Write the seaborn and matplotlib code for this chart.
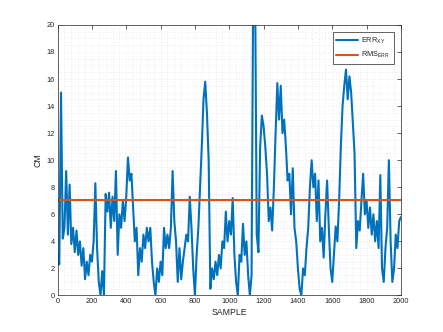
import numpy as np
import pandas as pd
import matplotlib
matplotlib.use("Agg")
import matplotlib.pyplot as plt
import seaborn as sns
from matplotlib.ticker import MultipleLocator

# ---- data (every 10 samples) ----
sample_step = 10
err_xy = [
    3.0, 2.3, 15.0, 4.2, 5.0, 9.2, 4.5, 8.2, 3.8, 5.0,      # 0-90
    3.2, 4.8, 3.0, 4.0, 2.2, 3.5, 1.2, 2.5, 1.5, 3.0,       # 100-190
    2.5, 4.0, 8.3, 3.5, 1.0, 0.0, 1.8, 0.0, 7.5, 6.2,       # 200-290
    7.6, 5.0, 7.3, 5.5, 9.2, 3.0, 6.0, 5.0, 7.0, 5.5,       # 300-390
    7.3, 10.2, 8.5, 9.0, 6.5, 4.0, 5.0, 1.5, 3.5, 2.5,      # 400-490
    4.5, 3.5, 5.0, 4.0, 5.0, 2.5, 1.0, 0.0, 2.0, 1.0,       # 500-590
    2.5, 1.5, 5.0, 3.5, 4.5, 3.5, 5.0, 9.2, 5.5, 4.0,       # 600-690
    1.0, 3.5, 1.2, 2.5, 3.5, 4.5, 4.0, 7.3, 5.0, 2.0,       # 700-790
    0.0, 3.0, 5.0, 8.0, 11.0, 14.5, 15.8, 13.5, 10.0, 0.5,  # 800-890
    2.0, 1.2, 2.5, 1.5, 3.0, 2.0, 4.0, 3.5, 6.2, 4.0,       # 900-990
    5.5, 4.5, 7.2, 3.0, 1.0, 0.0, 3.0, 2.5, 5.3, 3.0,       # 1000-1090
    4.0, 1.5, 0.0, 1.5, 24.0, 24.0, 4.5, 3.2, 11.0, 13.3,   # 1100-1190
    12.5, 11.0, 9.0, 5.5, 6.5, 4.8, 8.0, 12.0, 15.7, 13.0,  # 1200-1290
    15.5, 12.0, 13.0, 11.0, 8.5, 9.0, 6.0, 9.4, 5.0, 4.0,   # 1300-1390
    2.0, 0.5, 0.0, 2.0, 1.5, 3.5, 5.0, 8.0, 10.0, 8.0,      # 1400-1490
    9.0, 5.5, 8.5, 4.0, 5.0, 2.8, 6.0, 8.5, 5.0, 2.0,       # 1500-1590
    1.0, 3.0, 5.1, 4.0, 7.0, 11.0, 14.0, 15.5, 16.7, 14.5,  # 1600-1690
    16.2, 15.0, 12.7, 10.5, 3.5, 5.5, 4.8, 7.0, 9.0, 6.0,   # 1700-1790
    7.0, 5.0, 6.5, 4.5, 6.0, 4.0, 5.5, 3.5, 8.9, 2.0,       # 1800-1890
    1.0, 3.5, 5.0, 10.0, 4.0, 1.0, 2.0, 4.5, 3.5, 5.5,      # 1900-1990
    5.8,                                                    # 2000
]
samples = np.arange(len(err_xy)) * sample_step
rms_x = [0, 2000]
rms_err = [7.05, 7.05]

x_ticks = list(range(0, 2001, 200))
y_ticks = list(range(0, 21, 2))

# ---- style ----
sns.set_theme(style="white")
plt.rcParams["font.family"] = ["Liberation Sans", "DejaVu Sans"]
plt.rcParams["mathtext.fontset"] = "custom"
plt.rcParams["mathtext.rm"] = "Liberation Sans"
plt.rcParams["mathtext.it"] = "Liberation Sans"

blue = "#0072BD"
orange = "#D95319"
axis_col = "#262626"

fig = plt.figure(figsize=(4.43, 3.32), dpi=100)
ax = fig.add_axes([0.13, 0.11, 0.775, 0.815])

df = pd.DataFrame({"SAMPLE": samples, "CM": err_xy})
sns.lineplot(data=df, x="SAMPLE", y="CM", ax=ax, color=blue, linewidth=1.5,
             label=r"ERR$_{\mathrm{XY}}$")
sns.lineplot(x=rms_x, y=rms_err, ax=ax, color=orange, linewidth=1.5,
             label=r"RMS$_{\mathrm{ERR}}$")

ax.set_xlim(0, 2000)
ax.set_ylim(0, 20)
ax.set_xticks(x_ticks)
ax.set_yticks(y_ticks)
ax.xaxis.set_minor_locator(MultipleLocator(40))
ax.yaxis.set_minor_locator(MultipleLocator(0.5))
ax.grid(which="both", linestyle=(0, (1, 3)), color="#dadada", linewidth=0.5)
ax.set_axisbelow(True)

ax.tick_params(which="major", direction="in", length=3, width=0.5,
               top=True, right=True, labelsize=5.3, colors=axis_col, pad=2)
ax.tick_params(which="minor", length=0)
for s in ax.spines.values():
    s.set_color(axis_col)
    s.set_linewidth(0.5)

ax.set_xlabel("SAMPLE", fontsize=6.3, color=axis_col, labelpad=2)
ax.set_ylabel("CM", fontsize=6.3, color=axis_col, labelpad=3)

leg = ax.legend(loc="upper right", fontsize=5.3, frameon=True, fancybox=False,
                edgecolor="#262626", framealpha=1, handlelength=2.9,
                borderaxespad=0.95, borderpad=0.5, labelspacing=0.6,
                handletextpad=0.5)
leg.get_frame().set_linewidth(0.5)

fig.savefig("out.png", dpi=100)
